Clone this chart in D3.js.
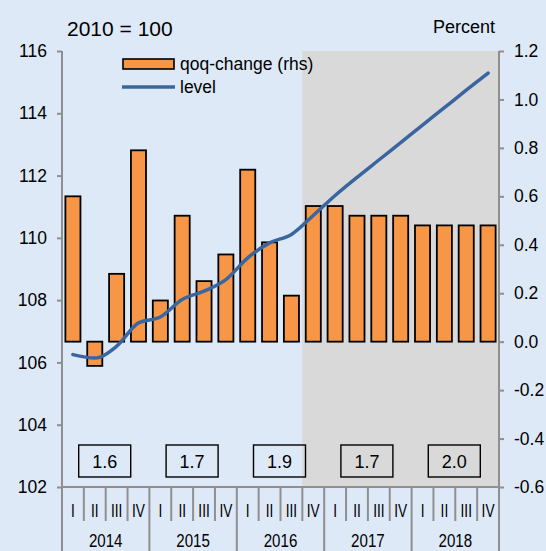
<!DOCTYPE html>
<html><head><meta charset="utf-8">
<script src="https://cdn.jsdelivr.net/npm/d3@7"></script>
<style>body{margin:0;background:#dde9f7}svg{display:block;font-family:"Liberation Sans",Arial,sans-serif}</style>
</head><body><svg id="c" width="546" height="551"></svg>
<script>
const quarters = ["I","II","III","IV"];
const years = ["2014","2015","2016","2017","2018"];
const periods = years.flatMap(y => quarters.map(q => y + " " + q));
const qoqChange = [0.60,-0.10,0.28,0.79, 0.17,0.52,0.25,0.36, 0.71,0.41,0.19,0.56, 0.56,0.52,0.52,0.52, 0.48,0.48,0.48,0.48];
const level = [106.25,106.14,106.52,107.27, 107.46,108.02,108.29,108.66, 109.36,109.84,110.11,110.72, 111.36,111.94,112.50,113.06, 113.62,114.18,114.74,115.29];
const annualGrowth = ["1.6","1.7","1.9","1.7","2.0"];
const leftTicks = [102,104,106,108,110,112,114,116];
const rightTicks = [-0.6,-0.4,-0.2,0.0,0.2,0.4,0.6,0.8,1.0,1.2];
const forecastStart = "2016 IV";

const W = 546, H = 551;
const L = 62, R = 499, T = 51, B = 487;
const axisColor = "#8f8f8f";
const svg = d3.select("#c");

svg.append("rect").attr("width", W).attr("height", H).attr("fill", "#dde9f7");

const xCell = d3.scaleBand().domain(periods).range([L, R]);
const x = d3.scaleBand().domain(periods).range([L, R]).paddingInner(0.31).paddingOuter(0.155);
const yL = d3.scaleLinear().domain([102, 116]).range([B, T]);
const yR = d3.scaleLinear().domain([-0.6, 1.2]).range([B, T]);

// forecast shading
svg.append("rect")
  .attr("x", xCell(forecastStart)).attr("y", T)
  .attr("width", R - xCell(forecastStart)).attr("height", B - T)
  .attr("fill", "#d9d9d9");

// bars
svg.append("g").selectAll("rect").data(qoqChange).join("rect")
  .attr("x", (d, i) => x(periods[i]))
  .attr("width", x.bandwidth())
  .attr("y", d => yR(Math.max(0, d)))
  .attr("height", d => Math.abs(yR(d) - yR(0)))
  .attr("fill", "#f79646").attr("stroke", "#000").attr("stroke-width", 1.8);

// level line
const line = d3.line()
  .x((d, i) => x(periods[i]) + x.bandwidth() / 2)
  .y(d => yL(d))
  .curve(d3.curveMonotoneX);
svg.append("path").datum(level).attr("d", line)
  .attr("fill", "none").attr("stroke", "#3a66a0").attr("stroke-width", 3.5)
  .attr("stroke-linecap", "round").attr("stroke-linejoin", "round");

// annual growth boxes
const boxes = svg.append("g");
years.forEach((yr, k) => {
  const cx = xCell(yr + " I") + 2 * xCell.step() - 1;
  boxes.append("rect").attr("x", cx - 26).attr("y", 445).attr("width", 52).attr("height", 32)
    .attr("fill", "none").attr("stroke", "#000").attr("stroke-width", 1.4);
  boxes.append("text").attr("x", cx).attr("y", 468).attr("text-anchor", "middle")
    .attr("font-size", 18).attr("fill", "#000").text(annualGrowth[k]);
});

// left axis
const gL = svg.append("g").attr("transform", `translate(${L},0)`)
  .call(d3.axisLeft(yL).tickValues(leftTicks).tickFormat(d => String(d)).tickSize(5).tickPadding(10));
// right axis
const gR = svg.append("g").attr("transform", `translate(${R},0)`)
  .call(d3.axisRight(yR).tickValues(rightTicks).tickFormat(d => d.toFixed(1)).tickSize(5).tickPadding(10));
[gL, gR].forEach(g => {
  g.select(".domain").remove();
  g.selectAll(".tick line").attr("stroke", axisColor).attr("stroke-width", 2);
  g.selectAll(".tick text").attr("font-size", 17.5).attr("fill", "#000")
    .attr("font-family", "Liberation Sans, Arial, sans-serif");
});
svg.append("line").attr("x1", L).attr("x2", L).attr("y1", T).attr("y2", H)
  .attr("stroke", axisColor).attr("stroke-width", 2);
svg.append("line").attr("x1", R).attr("x2", R).attr("y1", T).attr("y2", H)
  .attr("stroke", axisColor).attr("stroke-width", 2);
svg.append("line").attr("x1", L).attr("x2", R).attr("y1", B).attr("y2", B)
  .attr("stroke", axisColor).attr("stroke-width", 2);

// category axis
const cat = svg.append("g");
periods.forEach((p, i) => {
  if (i > 0) {
    const long = i % 4 === 0;
    cat.append("line").attr("x1", xCell(p)).attr("x2", xCell(p))
      .attr("y1", B).attr("y2", long ? H : 521)
      .attr("stroke", axisColor).attr("stroke-width", 2);
  }
  const cx = xCell(p) + xCell.bandwidth() / 2;
  cat.append("text").attr("transform", `translate(${cx},517) scale(0.72,1)`)
    .attr("text-anchor", "middle").attr("font-size", 19).attr("fill", "#000")
    .text(quarters[i % 4]);
});
years.forEach(yr => {
  const cx = xCell(yr + " I") + 2 * xCell.step();
  cat.append("text").attr("transform", `translate(${cx},546.5) scale(0.84,1)`)
    .attr("text-anchor", "middle").attr("font-size", 18).attr("fill", "#000").text(yr);
});

// top labels
svg.append("text").attr("x", 67).attr("y", 36).attr("font-size", 21).attr("fill", "#000").text("2010 = 100");
svg.append("text").attr("x", 495).attr("y", 32.5).attr("text-anchor", "end").attr("font-size", 18).attr("fill", "#000").text("Percent");

// legend
const lg = svg.append("g");
lg.append("rect").attr("x", 123).attr("y", 59).attr("width", 51).attr("height", 10)
  .attr("fill", "#f79646").attr("stroke", "#000").attr("stroke-width", 1.6);
lg.append("text").attr("x", 180).attr("y", 69.5).attr("font-size", 17.5).attr("fill", "#000").text("qoq-change (rhs)");
lg.append("line").attr("x1", 122).attr("x2", 175).attr("y1", 87).attr("y2", 87)
  .attr("stroke", "#3a66a0").attr("stroke-width", 3.5);
lg.append("text").attr("x", 180).attr("y", 92.5).attr("font-size", 17.5).attr("fill", "#000").text("level");
</script></body></html>
